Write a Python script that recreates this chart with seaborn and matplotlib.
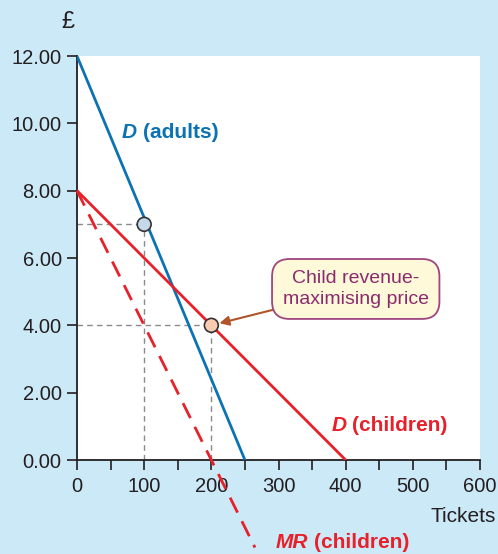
import matplotlib
matplotlib.use("Agg")
import matplotlib.pyplot as plt
import seaborn as sns
import pandas as pd

# Demand and marginal revenue schedules (quantity of tickets, price in £)
adult_q = [0, 250]
adult_p = [12.0, 0.0]
child_q = [0, 400]
child_p = [8.0, 0.0]
mr_q = [0, 265]
mr_p = [8.0, -2.6]

# Chosen prices
adult_point = (100, 7.0)
child_point = (200, 4.0)

x_ticks = [0, 100, 200, 300, 400, 500, 600]
y_ticks = [0, 2, 4, 6, 8, 10, 12]
y_labels = ["0.00", "2.00", "4.00", "6.00", "8.00", "10.00", "12.00"]

BG = "#cce9f8"
BLUE = "#0b73b3"
RED = "#e8202a"
GREY = "#8a8a8a"
TXT = "#231f20"

sns.set_theme(style="white")
plt.rcParams["font.family"] = ["Liberation Sans", "DejaVu Sans"]

fig = plt.figure(figsize=(4.98, 5.54), dpi=100, facecolor=BG)
ax = fig.add_axes([77 / 498, 1 - 460 / 554, 403 / 498, 404 / 554])
ax.set_facecolor("white")

df_adult = pd.DataFrame({"q": adult_q, "p": adult_p})
df_child = pd.DataFrame({"q": child_q, "p": child_p})
df_mr = pd.DataFrame({"q": mr_q, "p": mr_p})

sns.lineplot(data=df_adult, x="q", y="p", ax=ax, color=BLUE, lw=2.0, zorder=4)
sns.lineplot(data=df_child, x="q", y="p", ax=ax, color=RED, lw=2.0, zorder=4)
sns.lineplot(data=df_mr, x="q", y="p", ax=ax, color=RED, lw=2.0, zorder=4)
mr = ax.lines[-1]
mr.set_dashes([6, 3.5])
mr.set_clip_on(False)

# Guide lines to the axes
for q, p in (adult_point, child_point):
    ax.plot([0, q], [p, p], color=GREY, lw=1.0, ls=(0, (4, 3)), zorder=2)
    ax.plot([q, q], [0, p], color=GREY, lw=1.0, ls=(0, (4, 3)), zorder=2)

pts = pd.DataFrame({"q": [adult_point[0], child_point[0]],
                    "p": [adult_point[1], child_point[1]],
                    "k": ["a", "c"]})
sns.scatterplot(data=pts, x="q", y="p", hue="k",
                palette={"a": "#c5d8ea", "c": "#f9cbb0"},
                s=100, edgecolor="#333333", linewidth=1.2, legend=False,
                zorder=6, ax=ax)

ax.set_xlim(0, 600)
ax.set_ylim(0, 12)
ax.set_xticks(x_ticks)
ax.set_xticks([50, 150, 250, 350, 450, 550], minor=True)
ax.set_yticks(y_ticks)
ax.set_yticklabels(y_labels)
ax.set_xlabel("")
ax.set_ylabel("")
ax.tick_params(axis="both", which="both", direction="out", length=7, width=1.2,
               color=TXT, labelsize=14.5, labelcolor=TXT, bottom=True, left=True)
ax.tick_params(axis="x", pad=5)
ax.tick_params(axis="y", pad=4)
for s in ("top", "right"):
    ax.spines[s].set_visible(False)
for s in ("left", "bottom"):
    ax.spines[s].set_color(TXT)
    ax.spines[s].set_linewidth(1.3)


def curve_label(x, y, letter, rest, color):
    kw = dict(fontsize=15, fontweight="bold", color=color, clip_on=False)
    t = ax.text(x, y, letter, style="italic", **kw)
    ax.annotate(rest, xy=(1, 0), xycoords=t, xytext=(4, 0),
                textcoords="offset points", ha="left", va="bottom",
                annotation_clip=False, **kw)


curve_label(67, 9.55, "D", "(adults)", BLUE)
curve_label(379, 0.85, "D", "(children)", RED)
curve_label(296, -2.6, "MR", "(children)", RED)

# Callout box
ax.annotate("Child revenue-\nmaximising price", xy=child_point,
            xytext=(415, 5.08), ha="center", va="center", fontsize=14,
            color="#8b2a6e", linespacing=1.35,
            bbox=dict(boxstyle="round,pad=0.55,rounding_size=0.9",
                      fc="#fef9d8", ec="#a0457e", lw=1.3),
            arrowprops=dict(arrowstyle="-|>", color="#b0562a", lw=1.5,
                            mutation_scale=14, shrinkA=0, shrinkB=6),
            zorder=7)

fig.text(68 / 498, 1 - 22 / 554, "£", fontsize=17, color=TXT, ha="center", va="center")
fig.text(496 / 498, 1 - 516 / 554, "Tickets", fontsize=15, color=TXT, ha="right", va="center")

fig.savefig("out.png", dpi=100, facecolor=BG)
